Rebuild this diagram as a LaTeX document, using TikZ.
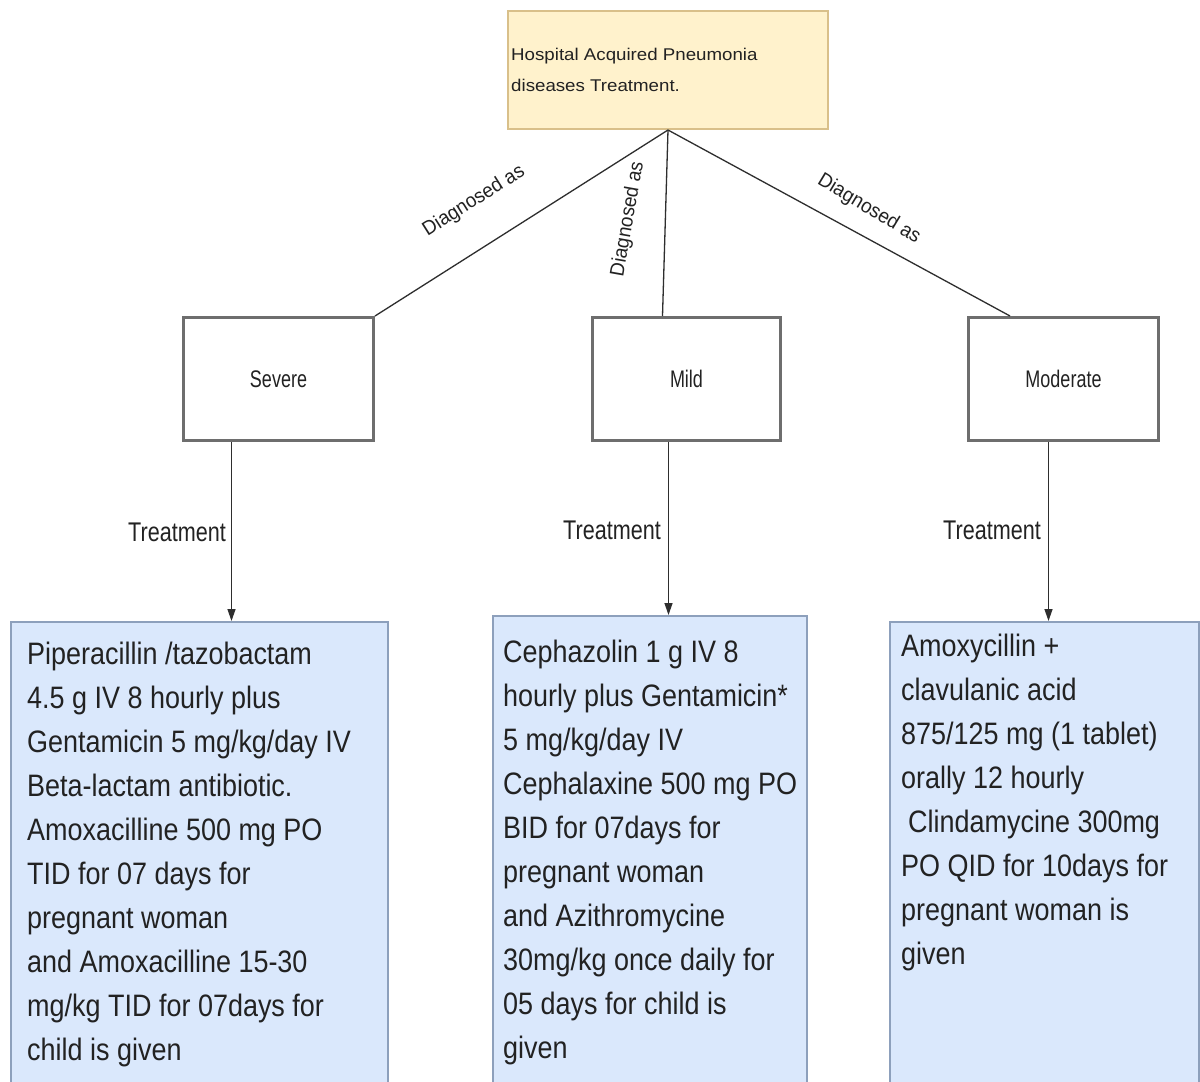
\documentclass[tikz,border=0pt]{standalone}
\usepackage{fontspec}
\setmainfont{Liberation Sans}
\newfontfamily\bodyfont[FakeStretch=0.87]{Liberation Sans}
\newfontfamily\headfont[FakeStretch=1.1]{Liberation Sans}
\newfontfamily\levelfont[FakeStretch=0.75]{Liberation Sans}
\newfontfamily\treatfont[FakeStretch=0.8]{Liberation Sans}
\newfontfamily\diagfont[FakeStretch=0.95]{Liberation Sans}
\usetikzlibrary{arrows.meta}

\definecolor{headfill}{HTML}{FFF2CC}
\definecolor{headline}{HTML}{D9C08A}
\definecolor{drugfill}{HTML}{DAE8FC}
\definecolor{drugline}{HTML}{8DA0BC}
\definecolor{levelline}{HTML}{6E6E6E}
\definecolor{ink}{HTML}{222222}
\definecolor{wire}{HTML}{2E2E2E}

\begin{document}
\begin{tikzpicture}[x=1pt,y=-1pt,
  headbox/.style={draw=headline, fill=headfill, line width=2pt, anchor=north west,
    inner sep=0pt, minimum width=320pt, minimum height=118pt},
  levelbox/.style={draw=levelline, line width=3pt, anchor=north west, inner sep=0pt,
    minimum height=123pt, text=ink, font=\levelfont\fontsize{24}{28}\selectfont},
  drugbox/.style={draw=drugline, fill=drugfill, line width=2pt, anchor=north west,
    inner sep=0pt, minimum height=520pt},
  drugtext/.style={anchor=north west, inner sep=0pt, align=left, text=ink,
    font=\bodyfont\fontsize{31}{44}\selectfont},
  link/.style={draw=wire, line width=1.3pt},
  arrow/.style={draw=wire, line width=1.3pt, -{Triangle[length=12pt,width=8pt]}},
  diag/.style={inner sep=0pt, text=ink, font=\diagfont\fontsize{20}{24}\selectfont},
  treat/.style={inner sep=0pt, anchor=east, text=ink, font=\treatfont\fontsize{27}{30}\selectfont}
]
\useasboundingbox (0,0) rectangle (1200,1082);
\fill[white] (0,0) rectangle (1200,1082);
\clip (0,0) rectangle (1200,1082);

% title box
\node[headbox] (head) at (507,10) {};
\node[anchor=north west, inner sep=0pt, align=left, text=ink,
  font=\headfont\fontsize{17}{31}\selectfont] (headtext) at (511,48)
  {Hospital Acquired Pneumonia\\diseases Treatment.};

% severity boxes
\node[levelbox, minimum width=190pt] (sev)  at (182,316) {Severe};
\node[levelbox, minimum width=188pt] (mild) at (591,316) {Mild};
\node[levelbox, minimum width=190pt] (mod)  at (967,316) {Moderate};

% diagnosis links
\draw[link] (head.south) -- (sev.north east);
\draw[link] (head.south) -- ([xshift=-24pt]mild.north);
\draw[link] (head.south) -- ([xshift=43pt]mod.north west);

\node[diag, rotate=32.3] (dsev)  at (474,201) {Diagnosed as};
\node[diag, rotate=80]   (dmild) at (628,219) {Diagnosed as};
\node[diag, rotate=-31]  (dmod)  at (869,209) {Diagnosed as};

% treatment boxes
\node[drugbox, minimum width=377pt] (lbox) at (10,621) {};
\node[drugbox, minimum width=314pt] (mbox) at (492,615) {};
\node[drugbox, minimum width=309pt] (rbox) at (889,621) {};

\node[drugtext] (ltext) at (27,642) {Piperacillin /tazobactam\\4.5 g IV 8 hourly plus\\Gentamicin 5 mg/kg/day IV\\Beta-lactam antibiotic.\\Amoxacilline 500 mg PO\\TID for 07 days for\\pregnant woman\\and Amoxacilline 15-30\\mg/kg TID for 07days for\\child is given};
\node[drugtext] (mtext) at (503,640) {Cephazolin 1 g IV 8\\hourly plus Gentamicin*\\5 mg/kg/day IV\\Cephalaxine 500 mg PO\\BID for 07days for\\pregnant woman\\and Azithromycine\\30mg/kg once daily for\\05 days for child is\\given};
\node[drugtext] (rtext) at (901,634) {Amoxycillin +\\clavulanic acid\\875/125 mg (1 tablet)\\orally 12 hourly\\\hspace*{7pt}Clindamycine 300mg\\PO QID for 10days for\\pregnant woman is\\given};

% treatment arrows
\coordinate (sevout)  at ([xshift=-47pt]sev.south);
\coordinate (mildout) at ([xshift=-18pt]mild.south);
\coordinate (modout)  at ([xshift=-15pt]mod.south);
\draw[arrow] (sevout)  -- (sevout |- lbox.north);
\draw[arrow] (mildout) -- (mildout |- mbox.north);
\draw[arrow] (modout)  -- (modout |- rbox.north);

\node[treat] (tsev)  at (226,532) {Treatment};
\node[treat] (tmild) at (661,530) {Treatment};
\node[treat] (tmod)  at (1041,530) {Treatment};
\end{tikzpicture}
\end{document}
